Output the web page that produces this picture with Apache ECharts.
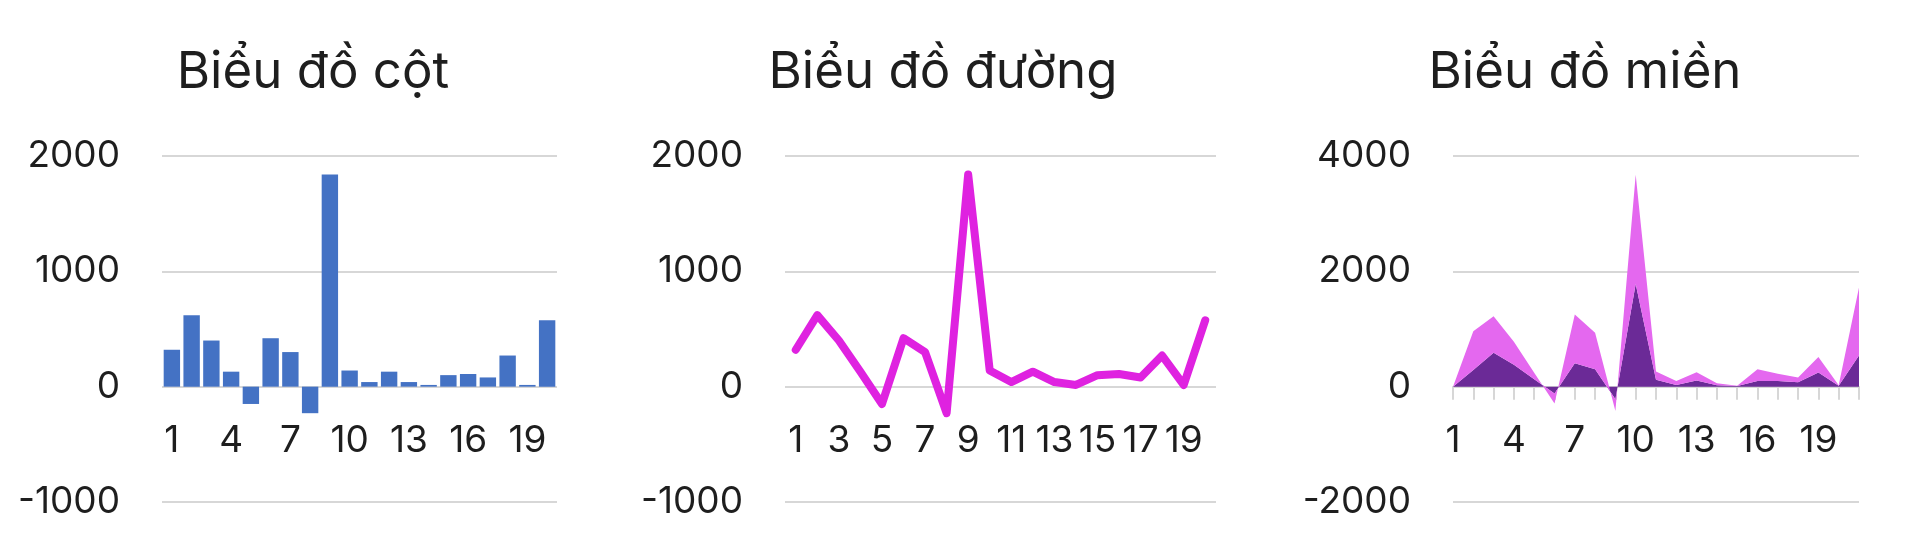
<!DOCTYPE html>
<html lang="vi">
<head>
  <meta charset="UTF-8">
  <title>Biểu đồ</title>
  <script src="https://cdn.jsdelivr.net/npm/echarts@6.0.0/dist/echarts.min.js"></script>
  <style>
    html, body { margin: 0; padding: 0; background: #fff; }
    #chart { width: 1920px; height: 544px; }
  </style>
</head>
<body>
  <div id="chart"></div>
  <script>
    // dữ liệu
    var barCategories = ['1', '2', '3', '4', '5', '6', '7', '8', '9', '10', '11', '12', '13', '14', '15', '16', '17', '18', '19', '20'];
    var barValues = [320, 620, 400, 130, -150, 420, 300, -230, 1840, 140, 40, 130, 40, 15, 100, 110, 80, 270, 15, 575];
    var lineValues = [320, 620, 400, 130, -150, 420, 300, -230, 1840, 140, 40, 130, 40, 15, 100, 110, 80, 270, 15, 575];
    var areaCategories = ['1', '2', '3', '4', '5', '6', '7', '8', '9', '10', '11', '12', '13', '14', '15', '16', '17', '18', '19', '20', '21'];
    var areaLow = [0, 290, 590, 380, 130, -120, 405, 300, -220, 1780, 120, 30, 105, 25, 12, 100, 100, 76, 245, 17, 540];
    var areaHigh = [0, 670, 630, 400, 110, -170, 845, 635, -200, 1895, 145, 70, 146, 35, 5, 204, 123, 81, 268, 6, 1180];
    var titles = ['Biểu đồ cột', 'Biểu đồ đường', 'Biểu đồ miền'];

    var font = 'Inter, "Noto Sans", sans-serif';
    var gridColor = '#d7d7d7';
    var gridH = 346;
    // trục x nằm ở mức 0 (1/3 chiều cao tính từ đáy)
    var zeroShift = -gridH / 3;

    function yAxis(idx, min, max, step) {
      return {
        type: 'value', gridIndex: idx, min: min, max: max, interval: step,
        axisLine: { show: false }, axisTick: { show: false },
        axisLabel: {
          fontSize: 37, color: '#1e1e1e', fontFamily: font, margin: 42,
          formatter: function (v) { return String(v); }
        },
        splitLine: { lineStyle: { color: gridColor, width: 2 } }
      };
    }

    function xLabel(step) {
      return { interval: step, fontSize: 37, color: '#1e1e1e', fontFamily: font, margin: 36 };
    }

    var chart = echarts.init(document.getElementById('chart'));
    var option = {
      backgroundColor: '#fff',
      animation: false,
      title: [
        { text: titles[0], left: 308, top: 42, textAlign: 'center' },
        { text: titles[1], left: 938, top: 42, textAlign: 'center' },
        { text: titles[2], left: 1580, top: 42, textAlign: 'center' }
      ].map(function (t) {
        t.textStyle = { fontSize: 51, fontWeight: 'normal', color: '#1e1e1e', fontFamily: font };
        return t;
      }),
      grid: [
        { left: 162, top: 156, width: 395, height: gridH },
        { left: 785, top: 156, width: 431, height: gridH },
        { left: 1453, top: 156, width: 406, height: gridH }
      ],
      xAxis: [
        {
          type: 'category', gridIndex: 0, data: barCategories, position: 'bottom', offset: zeroShift,
          axisLine: { show: false, onZero: false }, axisTick: { show: false },
          axisLabel: xLabel(2)
        },
        {
          type: 'category', gridIndex: 1, data: barCategories, position: 'bottom', offset: zeroShift,
          axisLine: { show: false, onZero: false }, axisTick: { show: false },
          axisLabel: xLabel(1)
        },
        {
          // đường trục và vạch chia ở mức 0
          type: 'category', gridIndex: 2, data: areaCategories, boundaryGap: false, position: 'bottom',
          axisLine: { onZero: true, lineStyle: { color: gridColor, width: 2 } },
          axisTick: { show: true, interval: 0, length: 13, lineStyle: { color: gridColor, width: 2 } },
          axisLabel: { show: false }
        },
        {
          // nhãn của trục x biểu đồ miền
          type: 'category', gridIndex: 2, data: areaCategories, boundaryGap: false,
          position: 'bottom', offset: zeroShift,
          axisLine: { show: false, onZero: false }, axisTick: { show: false },
          axisLabel: xLabel(2)
        }
      ],
      yAxis: [
        yAxis(0, -1000, 2000, 1000),
        yAxis(1, -1000, 2000, 1000),
        yAxis(2, -2000, 4000, 2000)
      ],
      series: [
        {
          type: 'bar', xAxisIndex: 0, yAxisIndex: 0, data: barValues,
          barCategoryGap: '17%', itemStyle: { color: '#4472c4' }
        },
        {
          type: 'line', xAxisIndex: 1, yAxisIndex: 1, data: lineValues,
          showSymbol: false, symbol: 'none',
          lineStyle: { color: '#df22e0', width: 8, cap: 'round', join: 'round' }
        },
        {
          type: 'line', xAxisIndex: 2, yAxisIndex: 2, data: areaLow, stack: 'mien',
          symbol: 'none', lineStyle: { width: 0 },
          areaStyle: { color: '#6b2a97', opacity: 1 }
        },
        {
          type: 'line', xAxisIndex: 2, yAxisIndex: 2, data: areaHigh, stack: 'mien',
          symbol: 'none', lineStyle: { width: 0 },
          areaStyle: { color: '#e468ef', opacity: 1 }
        }
      ]
    };
    chart.setOption(option);
  </script>
</body>
</html>
